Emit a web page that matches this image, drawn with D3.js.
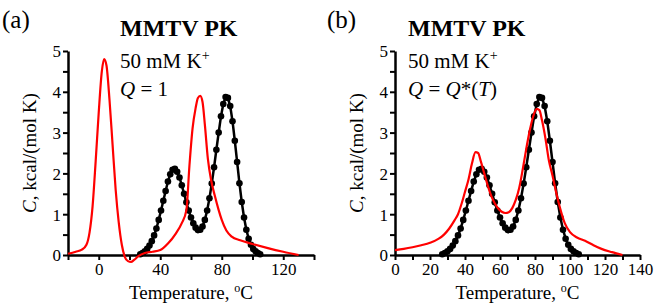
<!DOCTYPE html>
<html>
<head>
<meta charset="utf-8">
<script src="https://cdn.jsdelivr.net/npm/d3@7"></script>
<style>
  body { margin: 0; background: #fff; }
  svg text { font-family: "Liberation Serif", "Times New Roman", serif; fill: #000; }
</style>
</head>
<body>
<div id="chart"></div>
<script>
const W = 655, H = 308;

// experimental DSC profile (black dots), same in both panels
const expTemp = [27, 28.5, 30, 31.5, 33, 34.5, 36, 37.5, 39, 40.5, 42, 43.5, 45, 46.5, 48, 49.5,
  51, 52.5, 54, 55.5, 57, 58.5, 60, 61.5, 63, 64.5, 66, 67.5, 69, 70.5, 72, 73.5, 75, 76.5,
  78, 79.5, 81, 82.5, 84, 85.5, 87, 88.5, 90, 91.5, 93, 94.5, 96, 97.5, 99, 100.5, 102, 103.5, 105];
const expC = [0.02, 0.05, 0.09, 0.15, 0.23, 0.34, 0.48, 0.65, 0.86, 1.09, 1.33, 1.57, 1.80, 1.98, 2.09, 2.11,
  2.04, 1.90, 1.71, 1.50, 1.29, 1.09, 0.92, 0.78, 0.67, 0.61, 0.62, 0.70, 0.86, 1.09, 1.39, 1.75, 2.15, 2.58,
  3.00, 3.40, 3.70, 3.87, 3.85, 3.65, 3.28, 2.80, 2.28, 1.76, 1.30, 0.92, 0.62, 0.40, 0.25, 0.15, 0.09, 0.05, 0.02];

// model, Q = 1 (panel a)
const modelATemp = [-20, -15, -11, -8, -6, -4, -2, 0, 2, 3.5, 5, 7, 9, 11, 13, 15, 17, 19, 21, 23, 26, 30,
  35, 40, 45, 50, 54, 57, 59, 61, 63, 64.5, 66, 67.5, 69, 71, 73, 75.5, 78, 80, 83, 86.5, 92, 100, 110, 120, 130];
const modelAC = [0.03, 0.08, 0.13, 0.25, 0.55, 1.2, 2.3, 3.5, 4.5, 4.8, 4.65, 3.8, 2.7, 1.6, 0.8, 0.25, -0.05, -0.15,
  -0.17, -0.12, -0.02, 0.05, 0.08, 0.12, 0.28, 0.52, 0.78, 1.1, 2.2, 3.1, 3.6, 3.85, 3.9, 3.75, 3.2, 2.35, 1.85,
  1.45, 1.1, 0.86, 0.6, 0.45, 0.36, 0.27, 0.17, 0.08, 0.0];

// model, Q = Q*(T) (panel b)
const modelBTemp = [0, 5, 10, 15, 20, 25, 28, 31, 34, 36, 38, 40, 42, 44, 46, 47.5, 49, 51, 53, 55, 57, 59, 61,
  63, 65, 67, 69, 71, 73, 75, 77, 79, 81, 82.5, 84, 86, 88, 90, 92, 94, 97, 100, 104, 108.6, 113, 118, 124, 130];
const modelBC = [0.12, 0.15, 0.19, 0.24, 0.3, 0.4, 0.5, 0.65, 0.85, 1.0, 1.25, 1.55, 1.85, 2.25, 2.52, 2.5, 2.3,
  2.0, 1.7, 1.45, 1.27, 1.14, 1.06, 1.03, 1.05, 1.15, 1.35, 1.65, 2.1, 2.6, 3.05, 3.4, 3.58, 3.55, 3.3, 2.85,
  2.3, 1.95, 1.55, 1.2, 0.78, 0.56, 0.43, 0.35, 0.25, 0.15, 0.07, 0.0];

const xTicksA = [-20, 0, 20, 40, 60, 80, 100, 120, 140];
const xLabelsA = [0, 40, 80, 120];
const xTicksB = d3.range(0, 141, 10);
const xLabelsB = [0, 20, 40, 60, 80, 100, 120, 140];

const svg = d3.select('#chart').append('svg')
  .attr('width', W)
  .attr('height', H);

const y = d3.scaleLinear().domain([0, 5]).range([255, 51]);

const panels = [
  { x: d3.scaleLinear().domain([-20, 140]).range([68, 314]), ticks: xTicksA, labels: xLabelsA,
    modelT: modelATemp, modelC: modelAC, tag: '(a)', tagX: 2, textX: 120, ylabX: 36, q: 'a' },
  { x: d3.scaleLinear().domain([0, 140]).range([395, 640]), ticks: xTicksB, labels: xLabelsB,
    modelT: modelBTemp, modelC: modelBC, tag: '(b)', tagX: 327, textX: 408, ylabX: 363, q: 'b' }
];

panels.forEach(p => {
  const g = svg.append('g');
  const x = p.x;
  const x0 = x.range()[0];

  // y axis, minor ticks every 0.5
  const yAxis = d3.axisLeft(y)
    .tickValues(d3.range(0, 5.01, 0.5))
    .tickSize(5)
    .tickSizeOuter(0)
    .tickFormat(d => Number.isInteger(d) ? d : '');
  const ya = g.append('g').attr('transform', `translate(${x0},0)`).call(yAxis);

  // x axis
  const xAxis = d3.axisBottom(x)
    .tickValues(p.ticks)
    .tickSize(5)
    .tickSizeOuter(0)
    .tickFormat(d => p.labels.includes(d) ? d : '');
  const xa = g.append('g').attr('transform', `translate(0,${y(0)})`).call(xAxis);

  [ya, xa].forEach(a => {
    a.select('.domain').attr('stroke', '#000').attr('stroke-width', 2.5);
    a.selectAll('.tick line').attr('stroke', '#000').attr('stroke-width', 2);
    a.selectAll('.tick text').style('font-size', '17px').attr('fill', '#000');
  });
  ya.selectAll('.tick text').attr('x', -7).attr('dy', '0.35em');
  xa.selectAll('.tick text').attr('y', 8);

  // experimental data
  const expPts = expTemp.map((t, i) => [t, expC[i]]);
  const line = d3.line().x(d => x(d[0])).y(d => y(d[1]));
  g.append('path')
    .attr('d', line(expPts))
    .attr('fill', 'none')
    .attr('stroke', '#000')
    .attr('stroke-width', 2.5);
  g.selectAll('.dot')
    .data(expPts)
    .enter()
    .append('circle')
    .attr('class', 'dot')
    .attr('cx', d => x(d[0]))
    .attr('cy', d => y(d[1]))
    .attr('r', 3.3)
    .attr('fill', '#000');

  // model
  const modelPts = p.modelT.map((t, i) => [t, p.modelC[i]]);
  g.append('path')
    .attr('d', line.curve(d3.curveMonotoneX)(modelPts))
    .attr('fill', 'none')
    .attr('stroke', '#ff0000')
    .attr('stroke-width', 2.2);

  // texts
  g.append('text').attr('x', p.tagX).attr('y', 28).style('font-size', '25px').text(p.tag);
  g.append('text').attr('x', p.textX).attr('y', 36)
    .style('font-size', '24px').style('font-weight', 'bold').text('MMTV PK');
  const k = g.append('text').attr('x', p.textX).attr('y', 68).style('font-size', '21px');
  k.append('tspan').text('50 mM K');
  k.append('tspan').attr('dy', -8).style('font-size', '14px').text('+');

  const q = g.append('text').attr('x', p.textX).attr('y', 96).style('font-size', '21px');
  if (p.q === 'a') {
    q.append('tspan').style('font-style', 'italic').text('Q');
    q.append('tspan').text(' = 1');
  } else {
    q.append('tspan').style('font-style', 'italic').text('Q');
    q.append('tspan').text(' = ');
    q.append('tspan').style('font-style', 'italic').text('Q');
    q.append('tspan').text('*(');
    q.append('tspan').style('font-style', 'italic').text('T');
    q.append('tspan').text(')');
  }

  // axis titles
  const yl = g.append('text')
    .attr('transform', `translate(${p.ylabX},153) rotate(-90)`)
    .attr('text-anchor', 'middle')
    .style('font-size', '19px');
  yl.append('tspan').style('font-style', 'italic').text('C');
  yl.append('tspan').text(', kcal/(mol K)');

  const xl = g.append('text')
    .attr('x', (x.range()[0] + x.range()[1]) / 2)
    .attr('y', 299)
    .attr('text-anchor', 'middle')
    .style('font-size', '19px');
  xl.append('tspan').text('Temperature, ');
  xl.append('tspan').attr('dy', -7).style('font-size', '12px').text('o');
  xl.append('tspan').attr('dy', 7).text('C');
});
</script>
</body>
</html>
